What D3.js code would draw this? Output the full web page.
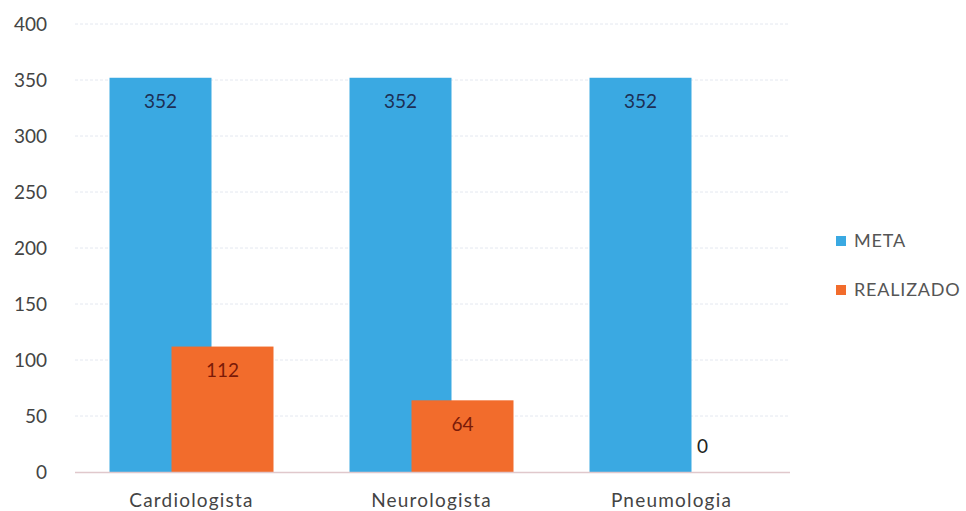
<!DOCTYPE html>
<html>
<head>
<meta charset="utf-8">
<script src="https://cdn.jsdelivr.net/npm/d3@7"></script>
<style>
  body { margin: 0; background: #fff; }
  svg { display: block; font-family: Lato, "Open Sans", sans-serif; }
</style>
</head>
<body>
<div id="chart"></div>
<script>
// données
const categories = ["Cardiologista", "Neurologista", "Pneumologia"];
const meta = [352, 352, 352];
const realizado = [112, 64, 0];
const seriesNames = ["META", "REALIZADO"];
const yTicks = [0, 50, 100, 150, 200, 250, 300, 350, 400];

const width = 966, height = 511;
const colors = { META: "#3aa9e2", REALIZADO: "#f26c2c" };

const svg = d3.select("#chart").append("svg")
    .attr("width", width).attr("height", height);

const x = d3.scaleBand().domain(categories).range([71.5, 791.5]);
const y = d3.scaleLinear().domain([0, 400]).range([472, 24]);

const barW = 102, offset = 62;

// grille
svg.append("g").selectAll("line")
    .data(yTicks.filter(t => t > 0))
    .join("line")
    .attr("x1", 75).attr("x2", 790)
    .attr("y1", d => y(d)).attr("y2", d => y(d))
    .attr("stroke", "#e4e8f0").attr("stroke-width", 1)
    .attr("stroke-dasharray", "3,2");

// axe Y
svg.append("g").selectAll("text")
    .data(yTicks)
    .join("text")
    .attr("x", 47).attr("y", d => y(d))
    .attr("dy", "0.35em")
    .attr("text-anchor", "end")
    .attr("font-size", 19).attr("fill", "#444")
    .text(d => d);

const rows = categories.map((c, i) => ({ cat: c, META: meta[i], REALIZADO: realizado[i] }));

const groupStart = c => x(c) + x.bandwidth() / 2 - (barW + offset) / 2;

// barres
seriesNames.forEach((s, si) => {
    svg.append("g").selectAll("rect")
        .data(rows)
        .join("rect")
        .attr("x", d => groupStart(d.cat) + si * offset)
        .attr("width", barW)
        .attr("y", d => y(d[s]))
        .attr("height", d => y(0) - y(d[s]))
        .attr("fill", colors[s]);
});

// ligne de base
svg.append("line")
    .attr("x1", 75).attr("x2", 790)
    .attr("y1", y(0) + 0.5).attr("y2", y(0) + 0.5)
    .attr("stroke", "#e0c8cc").attr("stroke-width", 1.5);

// étiquettes
const labelColors = { META: "#1d2f55", REALIZADO: "#7a1a08" };
seriesNames.forEach((s, si) => {
    svg.append("g").selectAll("text")
        .data(rows)
        .join("text")
        .attr("x", d => groupStart(d.cat) + si * offset + barW / 2)
        .attr("y", d => d[s] === 0 ? y(0) - 26 : y(d[s]) + 24)
        .attr("dy", "0.35em")
        .attr("text-anchor", "middle")
        .attr("font-size", 19)
        .attr("fill", d => d[s] === 0 ? "#222" : labelColors[s])
        .text(d => d[s]);
});

// catégories
svg.append("g").selectAll("text")
    .data(categories)
    .join("text")
    .attr("x", d => x(d) + x.bandwidth() / 2)
    .attr("y", 500)
    .attr("dy", "0.35em")
    .attr("text-anchor", "middle")
    .attr("font-size", 19).attr("letter-spacing", 1.2).attr("fill", "#444")
    .text(d => d);

// légende
const legend = svg.append("g").selectAll("g")
    .data(seriesNames)
    .join("g")
    .attr("transform", (d, i) => `translate(836, ${241 + i * 49})`);
legend.append("rect")
    .attr("x", 0).attr("y", -5).attr("width", 10).attr("height", 10)
    .attr("fill", d => colors[d]);
legend.append("text")
    .attr("x", 18).attr("dy", "0.35em")
    .attr("font-size", 18).attr("letter-spacing", 0.8).attr("fill", "#555")
    .text(d => d);
</script>
</body>
</html>
